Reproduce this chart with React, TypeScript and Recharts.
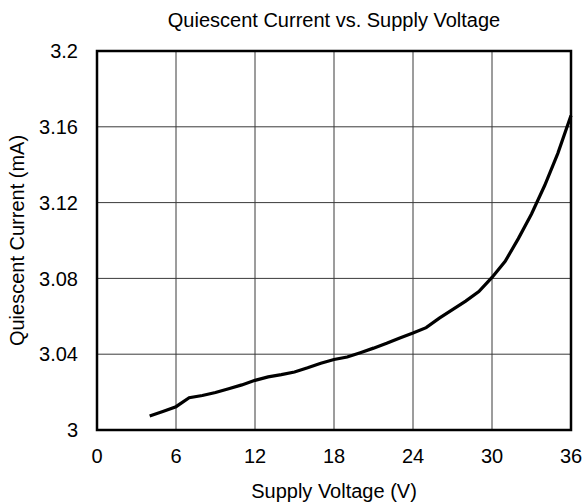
import React from "react";
import {
  LineChart, Line, XAxis, YAxis, CartesianGrid, ReferenceArea, Label,
} from "recharts";

const voltage = [
  4, 5, 6, 7, 8, 9, 10, 11, 12, 13, 14, 15, 16, 17, 18, 19, 20,
  21, 22, 23, 24, 25, 26, 27, 28, 29, 30, 31, 32, 33, 34, 35, 36,
];
const current = [
  3.0074, 3.0098, 3.0123, 3.017, 3.0182, 3.0198, 3.0218, 3.0238, 3.0262,
  3.028, 3.0292, 3.0306, 3.0328, 3.0352, 3.0372, 3.0385, 3.0408, 3.0432,
  3.0458, 3.0486, 3.0512, 3.054, 3.059, 3.0635, 3.068, 3.073, 3.0805,
  3.089, 3.101, 3.114, 3.129, 3.146, 3.166,
];
const xTicks = [0, 6, 12, 18, 24, 30, 36];
const yTicks = [3, 3.04, 3.08, 3.12, 3.16, 3.2];

const data = voltage.map((v, i) => ({ v, i: current[i] }));

const FONT = '"Liberation Sans", Arial, sans-serif';
const SIZE = 20;

export default function App() {
  return (
    <div style={{ position: "absolute", left: 0, top: 0, width: 585, height: 502, background: "#fff", fontFamily: FONT }}>
      <div
        style={{
          position: "absolute", left: 97, width: 474, top: 10, textAlign: "center",
          fontSize: SIZE, lineHeight: "20px", color: "#000", whiteSpace: "nowrap",
        }}
      >
        Quiescent Current vs. Supply Voltage
      </div>
      <LineChart width={585} height={502} data={data} margin={{ top: 51, right: 14, left: 0, bottom: 0 }}>
        <CartesianGrid stroke="#3a3a3a" strokeWidth={1} />
        <XAxis
          dataKey="v"
          type="number"
          domain={[0, 36]}
          ticks={xTicks}
          height={72}
          axisLine={false}
          tickLine={false}
          tickMargin={13}
          tick={{ fontSize: SIZE, fill: "#000", fontFamily: FONT }}
        >
          <Label value="Supply Voltage (V)" position="insideBottom" offset={4} style={{ fontSize: SIZE, fill: "#000", fontFamily: FONT }} />
        </XAxis>
        <YAxis
          type="number"
          domain={[3, 3.2]}
          ticks={yTicks}
          width={97}
          axisLine={false}
          tickLine={false}
          tickMargin={13}
          allowDataOverflow
          tickFormatter={(t: number) => String(+t.toFixed(2))}
          tick={{ fontSize: SIZE, fill: "#000", fontFamily: FONT }}
        >
          <Label
            value="Quiescent Current (mA)"
            angle={-90}
            position="insideLeft"
            offset={17}
            style={{ fontSize: SIZE, fill: "#000", fontFamily: FONT, textAnchor: "middle" }}
          />
        </YAxis>
        <ReferenceArea x1={0} x2={36} y1={3} y2={3.2} fill="none" fillOpacity={0} stroke="#000" strokeWidth={2.5} />
        <Line
          dataKey="i"
          type="linear"
          stroke="#000"
          strokeWidth={3.2}
          dot={false}
          isAnimationActive={false}
        />
      </LineChart>
    </div>
  );
}
